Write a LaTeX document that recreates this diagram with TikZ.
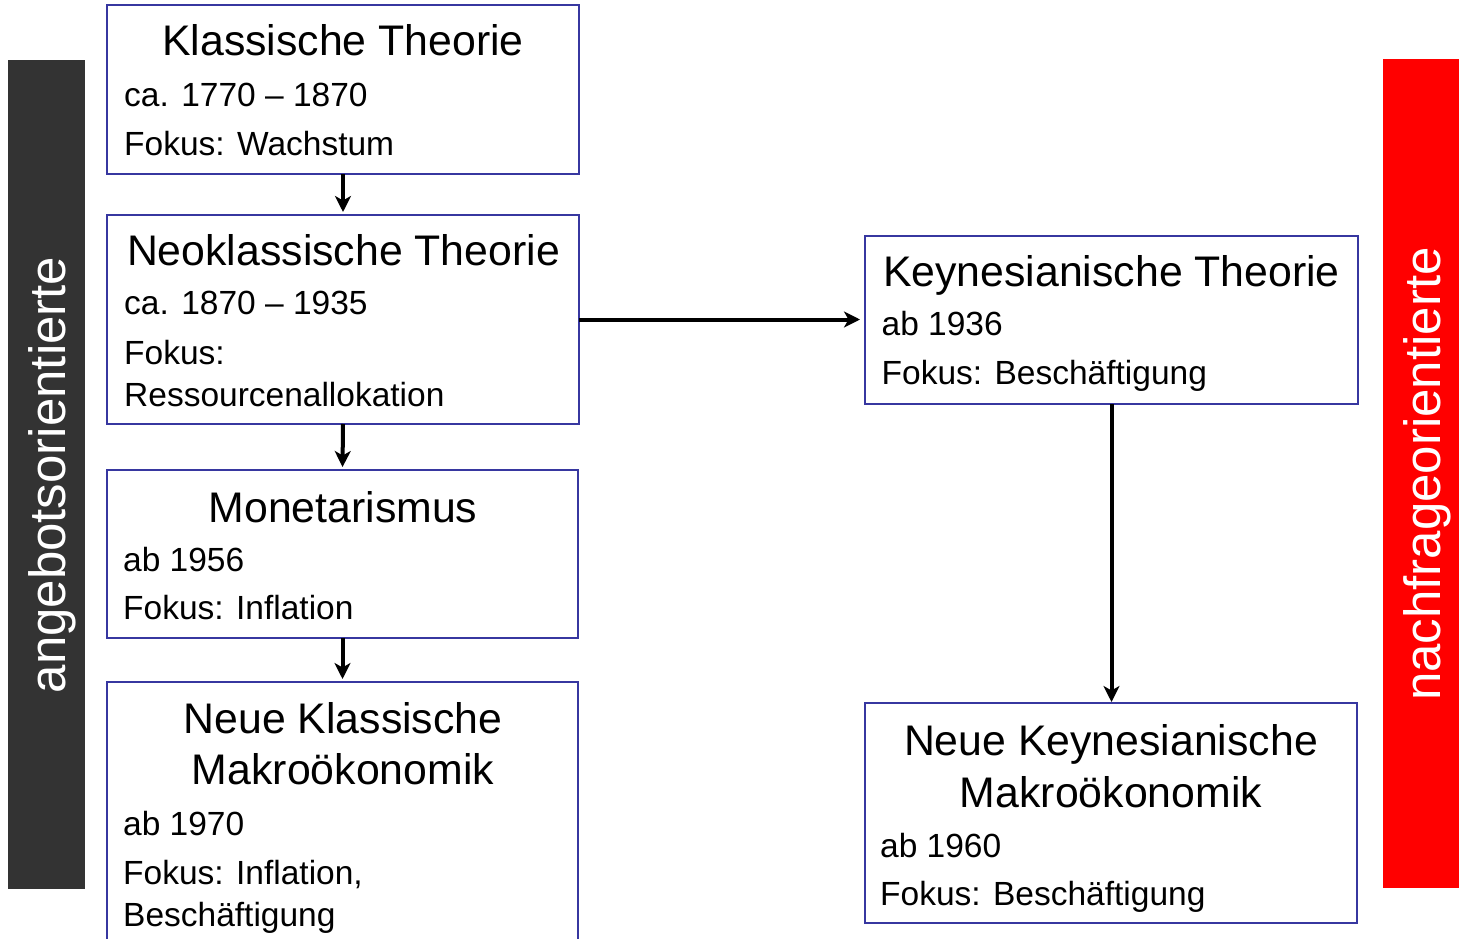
\documentclass[tikz,border=0pt]{standalone}
\usepackage{fontspec}
\setmainfont{Liberation Sans}
\usetikzlibrary{arrows.meta}
\definecolor{boxblue}{RGB}{55,55,160}
\definecolor{bardark}{RGB}{51,51,51}
\definecolor{barred}{RGB}{255,0,0}
\tikzset{
  theorybox/.style={draw=boxblue, line width=2pt, inner sep=0pt, outer sep=0pt},
  titletext/.style={anchor=base, inner sep=0pt, font=\fontsize{42.8}{51}\selectfont},
  bodytext/.style={anchor=base west, inner sep=0pt, font=\fontsize{33.5}{40}\selectfont},
  sidebar/.style={inner sep=0pt, outer sep=0pt, draw=none},
  sidetext/.style={anchor=base, rotate=90, inner sep=0pt, text=white, font=\fontsize{51}{60}\selectfont},
  flow/.style={-{Stealth[length=16pt,width=16pt,inset=4.5pt]}, line width=4pt}
}
\begin{document}
\begin{tikzpicture}[x=1pt,y=-1pt]
\useasboundingbox (0,0) rectangle (1460,939);
\clip (0,0) rectangle (1460,939);
\fill[white] (0,0) rectangle (1460,939);

% side bars
\node[sidebar, fill=bardark, minimum width=77pt, minimum height=829pt] (barL) at (46.5,474.5) {};
\node[sidebar, fill=barred, minimum width=76pt, minimum height=829pt] (barR) at (1421,473.5) {};
\node[sidetext] (sideL) at (65.5,475) {angebotsorientierte};
\node[sidetext] (sideR) at (1440,474) {nachfrageorientierte};

% boxes
\node[theorybox, minimum width=472pt, minimum height=169pt] (box1) at (343,89.5) {};
\node[theorybox, minimum width=472pt, minimum height=209pt] (box2) at (343,319.5) {};
\node[theorybox, minimum width=471pt, minimum height=168pt] (box3) at (342.5,554) {};
\node[theorybox, minimum width=471pt, minimum height=278pt] (box4) at (342.5,821) {};
\node[theorybox, minimum width=493pt, minimum height=168pt] (box5) at (1111.5,320) {};
\node[theorybox, minimum width=492pt, minimum height=220pt] (box6) at (1111,813) {};

% box 1
\node[titletext] (t11) at (343,56) {Klassische Theorie};
\node[bodytext] (t12) at (124,107) {ca. 1770 – 1870};
\node[bodytext] (t13) at (124,156) {Fokus: Wachstum};
% box 2
\node[titletext] (t21) at (343.5,265) {Neoklassische Theorie};
\node[bodytext] (t22) at (124,314) {ca. 1870 – 1935};
\node[bodytext] (t23) at (124,364) {Fokus:};
\node[bodytext] (t24) at (124,406) {Ressourcenallokation};
% box 3
\node[titletext] (t31) at (343,522) {Monetarismus};
\node[bodytext] (t32) at (123,571) {ab 1956};
\node[bodytext] (t33) at (123,619) {Fokus: Inflation};
% box 4
\node[titletext] (t41) at (343,733) {Neue Klassische};
\node[titletext] (t42) at (343,784) {Makroökonomik};
\node[bodytext] (t43) at (123,835) {ab 1970};
\node[bodytext] (t44) at (123,884) {Fokus: Inflation,};
\node[bodytext] (t45) at (123,926) {Beschäftigung};
% box 5
\node[titletext] (t51) at (1111.5,286) {Keynesianische Theorie};
\node[bodytext] (t52) at (881.5,335) {ab 1936};
\node[bodytext] (t53) at (881.5,384) {Fokus: Beschäftigung};
% box 6
\node[titletext] (t61) at (1111,755) {Neue Keynesianische};
\node[titletext] (t62) at (1111,807) {Makroökonomik};
\node[bodytext] (t63) at (880,857) {ab 1960};
\node[bodytext] (t64) at (880,905) {Fokus: Beschäftigung};

% connectors
\draw[flow, shorten >=3pt] (box1.south) -- (box2.north);
\draw[flow, shorten >=3pt] (box2.south) -- (box3.north);
\draw[flow, shorten >=3pt] (box3.south) -- (box4.north);
\draw[flow, shorten >=5pt] (box2.east) -- (box2.east -| box5.west);
\draw[flow, shorten >=1pt] (box5.south) -- (box5.south |- box6.north);
\end{tikzpicture}
\end{document}
